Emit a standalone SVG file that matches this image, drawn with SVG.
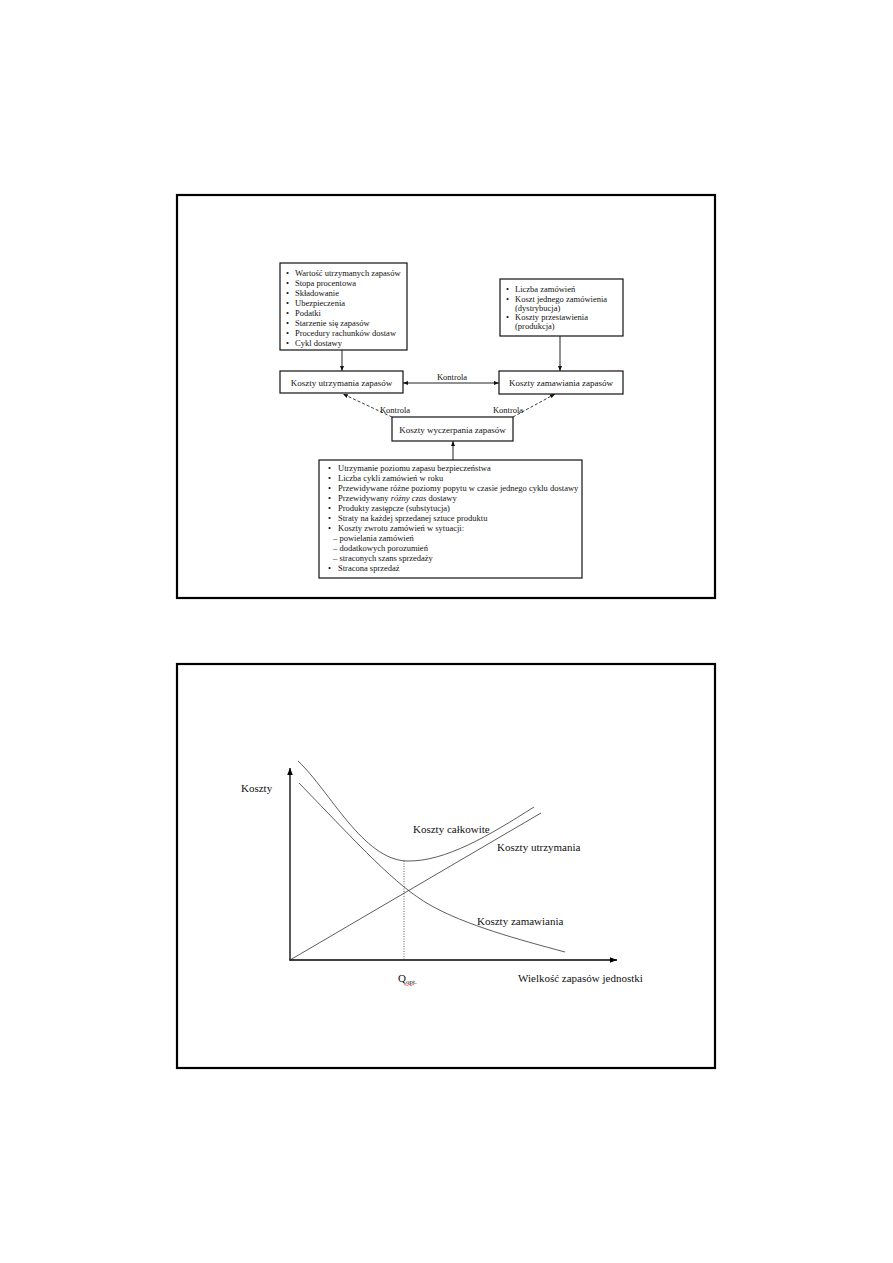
<svg xmlns="http://www.w3.org/2000/svg" width="893" height="1263" viewBox="0 0 893 1263">
<defs>
<style>
.frame{fill:none;stroke:#000;stroke-width:2.2}
.box{fill:#fff;stroke:#111;stroke-width:1.2}
.t{font-family:"Liberation Serif","Times New Roman",serif;font-size:8.5px;fill:#111}
.lbl{font-family:"Liberation Serif","Times New Roman",serif;font-size:9px;fill:#111}
.ct{font-family:"Liberation Serif","Times New Roman",serif;font-size:11px;fill:#111}
.ln{fill:none;stroke:#222;stroke-width:1}
.dash{fill:none;stroke:#222;stroke-width:0.9;stroke-dasharray:3,2}
.curve{fill:none;stroke:#333;stroke-width:0.8}
.axis{fill:none;stroke:#000;stroke-width:1.3}
.dot{fill:none;stroke:#333;stroke-width:0.8;stroke-dasharray:1,1.5}
</style>
<marker id="ah" viewBox="0 0 10 10" refX="10" refY="5" markerWidth="5" markerHeight="5" orient="auto-start-reverse" markerUnits="userSpaceOnUse">
<path d="M0,1 L10,5 L0,9 Z" fill="#111"/>
</marker>
<marker id="ah2" viewBox="0 0 10 10" refX="10" refY="5" markerWidth="7" markerHeight="7" orient="auto" markerUnits="userSpaceOnUse">
<path d="M0,1 L10,5 L0,9 Z" fill="#000"/>
</marker>
</defs>
<rect width="893" height="1263" fill="#fff"/>

<!-- Figure 1 -->
<rect class="frame" x="177" y="195" width="538" height="403"/>

<g id="n_holding_factors">
<rect class="box" x="280" y="263" width="127" height="87"/>
<text class="t" x="286" y="276">•</text><text class="t" x="295" y="276">Wartość utrzymanych zapasów</text>
<text class="t" x="286" y="286">•</text><text class="t" x="295" y="286">Stopa procentowa</text>
<text class="t" x="286" y="296">•</text><text class="t" x="295" y="296">Składowanie</text>
<text class="t" x="286" y="306">•</text><text class="t" x="295" y="306">Ubezpieczenia</text>
<text class="t" x="286" y="316">•</text><text class="t" x="295" y="316">Podatki</text>
<text class="t" x="286" y="326">•</text><text class="t" x="295" y="326">Starzenie się zapasów</text>
<text class="t" x="286" y="336">•</text><text class="t" x="295" y="336">Procedury rachunków dostaw</text>
<text class="t" x="286" y="346">•</text><text class="t" x="295" y="346">Cykl dostawy</text>
</g>

<g id="n_order_factors">
<rect class="box" x="500" y="279" width="123" height="57"/>
<text class="t" x="506" y="292">•</text><text class="t" x="515" y="292">Liczba zamówień</text>
<text class="t" x="506" y="301.5">•</text><text class="t" x="515" y="301.5">Koszt jednego zamówienia</text>
<text class="t" x="515" y="311">(dystrybucja)</text>
<text class="t" x="506" y="320">•</text><text class="t" x="515" y="320">Koszty przestawienia</text>
<text class="t" x="515" y="329">(produkcja)</text>
</g>

<g id="n_holding">
<rect class="box" x="280" y="371" width="123" height="22" stroke-width="1.5"/>
<text class="lbl" x="341.5" y="385.5" text-anchor="middle">Koszty utrzymania zapasów</text>
</g>

<g id="n_ordering">
<rect class="box" x="499" y="371" width="124" height="23" stroke-width="1.5"/>
<text class="lbl" x="561" y="386" text-anchor="middle">Koszty zamawiania zapasów</text>
</g>

<g id="n_stockout">
<rect class="box" x="392" y="417" width="121" height="24"/>
<text class="lbl" x="452.5" y="432.5" text-anchor="middle">Koszty wyczerpania zapasów</text>
</g>

<g id="n_stockout_factors">
<rect class="box" x="319" y="460" width="263" height="118"/>
<text class="t" x="328" y="471">•</text><text class="t" x="338" y="471">Utrzymanie poziomu zapasu bezpieczeństwa</text>
<text class="t" x="328" y="481">•</text><text class="t" x="338" y="481">Liczba cykli zamówień w roku</text>
<text class="t" x="328" y="491">•</text><text class="t" x="338" y="491">Przewidywane różne poziomy popytu w czasie jednego cyklu dostawy</text>
<text class="t" x="328" y="501">•</text><text class="t" x="338" y="501">Przewidywany <tspan font-style="italic">różny czas</tspan> dostawy</text>
<text class="t" x="328" y="511">•</text><text class="t" x="338" y="511">Produkty zastępcze (substytucja)</text>
<text class="t" x="328" y="521">•</text><text class="t" x="338" y="521">Straty na każdej sprzedanej sztuce produktu</text>
<text class="t" x="328" y="531">•</text><text class="t" x="338" y="531">Koszty zwrotu zamówień w sytuacji:</text>
<text class="t" x="333" y="541">– powielania zamówień</text>
<text class="t" x="333" y="551">– dodatkowych porozumień</text>
<text class="t" x="333" y="561">– straconych szans sprzedaży</text>
<text class="t" x="328" y="571">•</text><text class="t" x="338" y="571">Stracona sprzedaż</text>
</g>

<g id="connectors">
<line class="ln" x1="342" y1="350" x2="342" y2="371" marker-end="url(#ah)"/>
<line class="ln" x1="560" y1="336" x2="560" y2="371" stroke-width="1.3" marker-end="url(#ah)"/>
<line class="ln" x1="453" y1="460" x2="453" y2="441" stroke-width="1.3" marker-end="url(#ah)"/>
<line class="ln" x1="403" y1="383" x2="499" y2="383" marker-start="url(#ah)" marker-end="url(#ah)"/>
<text class="t" x="452" y="379.5" text-anchor="middle">Kontrola</text>
<line class="dash" x1="392" y1="417" x2="343" y2="394" marker-end="url(#ah)"/>
<text class="t" x="395" y="413" text-anchor="middle">Kontrola</text>
<line class="dash" x1="513" y1="417" x2="555" y2="394" marker-end="url(#ah)"/>
<text class="t" x="508" y="413" text-anchor="middle">Kontrola</text>
</g>

<!-- Figure 2 -->
<rect class="frame" x="177" y="664" width="538" height="404"/>

<g id="chart">
<line class="axis" x1="290" y1="960.5" x2="290" y2="768" marker-end="url(#ah2)"/>
<line class="axis" x1="289.5" y1="960" x2="617" y2="960" marker-end="url(#ah2)"/>
<path class="curve" d="M290,960 L541,813"/>
<path class="curve" d="M299,783 C360,846 395,885 430,905 S520,940 565,952"/>
<path class="curve" d="M298,761 C330,791 363,860 407,861 C445,862 490,835 534,807"/>
<line class="dot" x1="404" y1="861" x2="404" y2="960"/>
<text class="ct" x="241" y="792">Koszty</text>
<text class="ct" x="413" y="833">Koszty całkowite</text>
<text class="ct" x="497" y="851">Koszty utrzymania</text>
<text class="ct" x="477" y="925">Koszty zamawiania</text>
<text class="ct" x="398" y="982">Q<tspan font-size="7" dy="1.5">opt.</tspan></text>
<path d="M404,985 q1,-1 2,0 t2,0 t2,0 t2,0 t2,0" fill="none" stroke="#d22" stroke-width="0.6"/>
<text class="ct" x="518" y="982">Wielkość zapasów jednostki</text>
</g>
</svg>
